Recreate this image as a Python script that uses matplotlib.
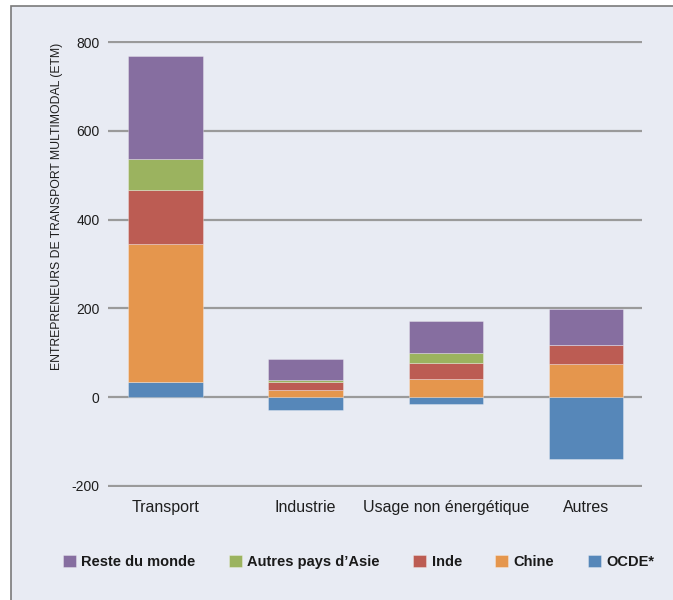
import numpy as np
import matplotlib
matplotlib.use("Agg")
import matplotlib.pyplot as plt
from matplotlib.patches import Rectangle

# data (ETM)
categories = ["Transport", "Industrie", "Usage non énergétique", "Autres"]
ocde = [34, -30, -15, -140]
chine = [310, 16, 41, 74]
inde = [123, 19, 37, 43]
asie = [70, 4, 21, 0]
reste = [232, 47, 73, 81]

series = [
    ("OCDE*", ocde, "#5687b9"),
    ("Chine", chine, "#e5964d"),
    ("Inde", inde, "#bc5c53"),
    ("Autres pays d’Asie", asie, "#9bb35f"),
    ("Reste du monde", reste, "#866ea0"),
]

plt.rcParams["font.family"] = ["Liberation Sans", "DejaVu Sans"]
plt.rcParams["axes.unicode_minus"] = False

panel = "#e8ebf3"
fig = plt.figure(figsize=(6.73, 6.0), dpi=100)
fig.patch.set_facecolor("white")
fig.patches.append(Rectangle((11 / 673, -0.05), 1.2, 1 - 6 / 600 + 0.05,
                             transform=fig.transFigure, facecolor=panel,
                             edgecolor="#7a7a7a", linewidth=1.2, zorder=-1))

ax = fig.add_axes([108 / 673, 112.7 / 600, 534 / 673, 446.6 / 600])
ax.set_facecolor("none")
ax.set_zorder(2)

x = np.arange(len(categories))
pos_bottom = np.zeros(len(categories))
neg_bottom = np.zeros(len(categories))
handles = {}
for name, vals, col in series:
    vals = np.array(vals, dtype=float)
    bottom = np.where(vals >= 0, pos_bottom, neg_bottom)
    h = ax.bar(x, vals, 0.53, bottom=bottom, color=col,
               edgecolor=(1, 1, 1, 0.35), linewidth=0.6, zorder=3)
    handles[name] = h
    pos_bottom += np.clip(vals, 0, None)
    neg_bottom += np.clip(vals, None, 0)

ax.set_xlim(-0.41, 3.40)
ax.set_ylim(-203, 803)
ax.set_yticks([-200, 0, 200, 400, 600, 800])
ax.yaxis.grid(True, color="#9a9a9a", linewidth=1.6, zorder=1)
ax.set_axisbelow(True)
for s in ax.spines.values():
    s.set_visible(False)
ax.tick_params(axis="y", length=0, pad=6, labelsize=10, labelcolor="#1e1e1e")
ax.tick_params(axis="x", length=0, pad=9, labelsize=11.5, labelcolor="#1e1e1e")
ax.set_xticks(x)
ax.set_xticklabels(categories)

ax.set_ylabel("ENTREPRENEURS DE TRANSPORT MULTIMODAL (ETM)", fontsize=8.8,
              color="#1e1e1e")
ax.yaxis.set_label_coords(-0.085, 0.63)

order = ["Reste du monde", "Autres pays d’Asie", "Inde", "Chine", "OCDE*"]
leg = fig.legend([handles[n] for n in order], order, ncol=5, loc="center",
                 bbox_to_anchor=(358.5 / 673, 1 - 561.7 / 600), frameon=False,
                 handlelength=0.9, handleheight=0.9, handletextpad=0.35,
                 columnspacing=2.3, prop={"weight": "bold", "size": 10.5})
for t in leg.get_texts():
    t.set_color("#1a1a1a")

fig.savefig("out.png", dpi=100, facecolor=fig.get_facecolor())
